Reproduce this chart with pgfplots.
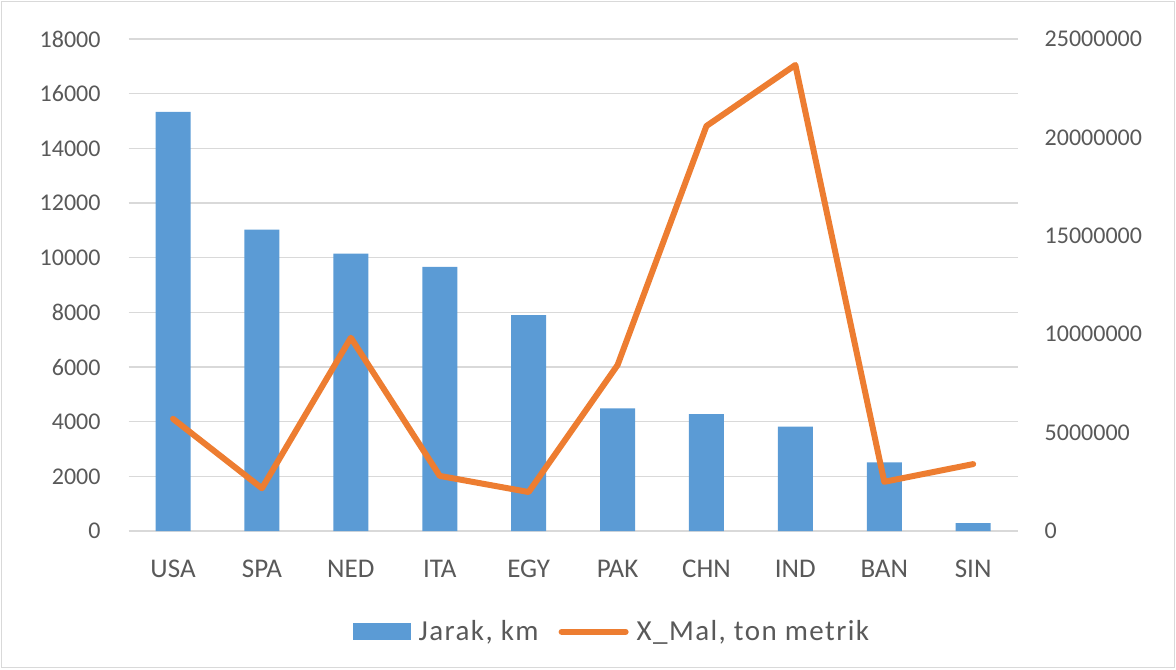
\documentclass[border=0pt]{standalone}
\usepackage{pgfplots}
\pgfplotsset{compat=1.18}
\usepackage{fontspec}
\setmainfont{Carlito}
\newfontfamily\legfont[LetterSpace=5]{Carlito}
\definecolor{barblue}{HTML}{5B9BD5}
\definecolor{lineorange}{HTML}{ED7D31}
\definecolor{txt}{HTML}{595959}
\definecolor{gridgray}{HTML}{D9D9D9}
\begin{document}
\begin{tikzpicture}
\useasboundingbox (-64.3pt,-69pt) rectangle (523.7pt,265.5pt);
\draw[gridgray, line width=0.75pt] (-63.6pt,-68.3pt) rectangle (523pt,264.8pt);
\pgfplotsset{
  common/.style={
    at={(0pt,0pt)}, anchor=south west,
    scale only axis, width=444.5pt, height=246pt,
    xmin=-0.5, xmax=9.5,
    ymin=0,
    axis line style={draw=none},
    major tick length=0pt,
    tick label style={font=\fontsize{12}{14}\selectfont, text=txt},
    /pgf/number format/assume math mode=true,
    scaled y ticks=false,
    yticklabel style={/pgf/number format/fixed, /pgf/number format/1000 sep={}},
  }
}
\begin{axis}[common,
  ymax=18000, ytick distance=2000,
  ymajorgrids, xmajorgrids=false, grid style={gridgray, line width=0.75pt},
  xtick={0,...,9},
  xticklabels={USA,SPA,NED,ITA,EGY,PAK,CHN,IND,BAN,SIN},
  xticklabel style={yshift=-11pt, font=\fontsize{13.5}{15}\selectfont},
  yticklabel style={xshift=-10.5pt},
  legend style={draw=none, fill=none, at={(0.547,-0.205)}, anchor=center,
    font=\legfont\fontsize{14.5}{16}\selectfont, text=txt,
    nodes={inner xsep=4pt},
    /tikz/every even column/.append style={column sep=6pt}},
  legend columns=2,
]
\addplot[ybar, bar width=17.5pt, fill=barblue, draw=none,
  legend image code/.code={\fill[barblue] (0pt,-4.25pt) rectangle (29pt,4.25pt);}]
  coordinates {(0,15330) (1,11030) (2,10150) (3,9665) (4,7900) (5,4490) (6,4280) (7,3815) (8,2515) (9,285)};
\addlegendentry{Jarak, km}
\addlegendimage{legend image code/.code={\draw[lineorange, line width=3pt, line cap=round] (0pt,0pt) -- (32pt,0pt);}}
\addlegendentry{X\_Mal, ton metrik}
\end{axis}
\begin{axis}[common,
  ymax=25000000, ytick distance=5000000,
  axis x line=none,
  axis y line*=right,
  yticklabel style={xshift=10pt},
]
\addplot[lineorange, line width=3pt, line cap=round, line join=round, mark=none]
  coordinates {(0,5700000) (1,2170000) (2,9820000) (3,2800000) (4,1980000) (5,8430000) (6,20580000) (7,23680000) (8,2500000) (9,3400000)};
\end{axis}
\end{tikzpicture}
\end{document}
